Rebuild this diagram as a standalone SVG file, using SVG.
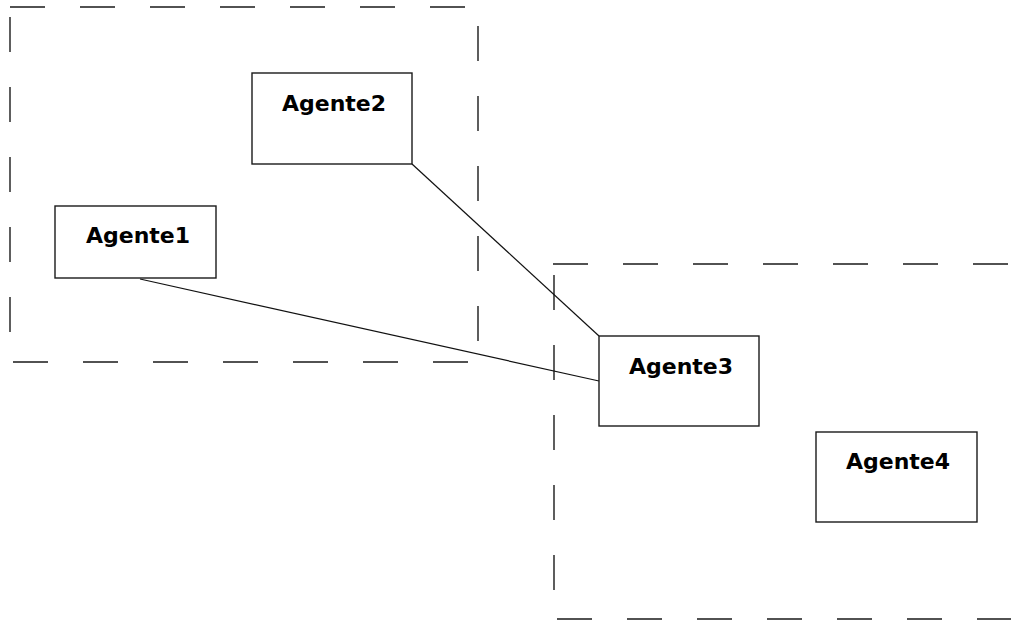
<svg xmlns="http://www.w3.org/2000/svg" width="1011" height="622" viewBox="0 0 1011 622">
<style>
.bg{fill:#ffffff}
.dash{stroke:#1a1a1a;stroke-width:1.4;stroke-dasharray:35 35;fill:none}
.box{fill:#ffffff;stroke:#1a1a1a;stroke-width:1.4}
.lbl{font-family:"DejaVu Sans",sans-serif;font-weight:bold;font-size:22px;fill:#000}
.conn{stroke:#111;stroke-width:1.2;fill:none}
</style>
<rect class="bg" x="0" y="0" width="1011" height="622"/>
<g id="groups">
<line class="dash" x1="10" y1="7" x2="478" y2="7"/>
<line class="dash" x1="10" y1="17" x2="10" y2="362"/>
<line class="dash" x1="478" y1="26" x2="478" y2="362"/>
<line class="dash" x1="13" y1="362" x2="478" y2="362"/>
<line class="dash" x1="553" y1="264" x2="1011" y2="264"/>
<line class="dash" x1="554" y1="275" x2="554" y2="619"/>
<line class="dash" x1="557" y1="619" x2="1011" y2="619"/>
</g>
<g id="connectors">
<line class="conn" x1="140" y1="279" x2="599" y2="381"/>
<line class="conn" x1="412" y1="164" x2="599" y2="336"/>
</g>
<g id="agente1">
<rect class="box" x="55" y="206" width="161" height="72"/>
<text class="lbl" x="86" y="243">Agente1</text>
</g>
<g id="agente2">
<rect class="box" x="252" y="73" width="160" height="91"/>
<text class="lbl" x="282" y="111">Agente2</text>
</g>
<g id="agente3">
<rect class="box" x="599" y="336" width="160" height="90"/>
<text class="lbl" x="629" y="374">Agente3</text>
</g>
<g id="agente4">
<rect class="box" x="816" y="432" width="161" height="90"/>
<text class="lbl" x="846" y="469">Agente4</text>
</g>
</svg>
